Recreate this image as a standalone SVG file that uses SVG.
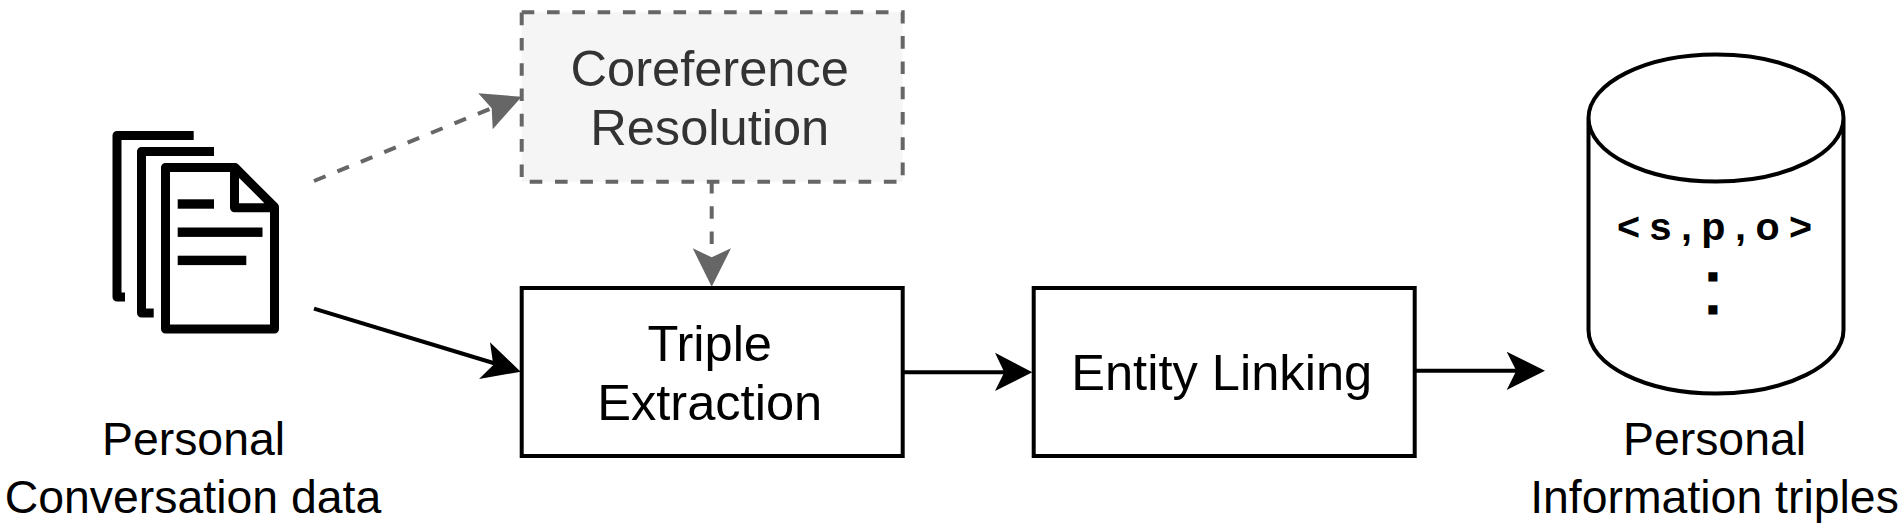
<svg xmlns="http://www.w3.org/2000/svg" width="1902" height="524" viewBox="0 0 1902 524">
<style>
text{font-family:"Liberation Sans",Arial,sans-serif;font-size:50.6px;text-anchor:middle;fill:#000}
.lbl{font-size:46.4px}
.box{fill:#fff;stroke:#000;stroke-width:4}
.doc{fill:none;stroke:#000;stroke-width:9;stroke-linejoin:round}
.bar{fill:#000}
.sol{stroke:#000;stroke-width:4;fill:none}
.dash{stroke:#666;stroke-width:4;fill:none;stroke-dasharray:12.5 12.8}
.hs{fill:#000}.hd{fill:#666}
.g{fill:#333}
.b{font-weight:bold}
.dot{font-size:30px;font-weight:bold;stroke:#000;stroke-width:4.8px;stroke-linejoin:miter}
</style>
<rect width="1902" height="524" fill="#fff"/>
<g id="connectors">
<path class="dash" d="M314 181L492 108"/><path class="hd" d="M521.700 96.700L478.300 93.300L491.700 108.300L492.700 129.300Z"/>
<path class="dash" d="M711.700 181V257"/><path class="hd" d="M711.700 286.700L692.700 248.300L711.700 257.300L731 248.300Z"/>
<path class="sol" d="M314 308.700L495 363.500"/><path class="hs" d="M520.700 371.700L479 379L493.300 365L490 342.300Z"/>
<path class="sol" d="M903 372.300H1006"/><path class="hs" d="M1032.300 372.300L995 391L1004.300 372.300L995 352.700Z"/>
<path class="sol" d="M1414 370.700H1520"/><path class="hs" d="M1545 370.700L1506.700 390L1516.300 370.700L1506.700 351.700Z"/>
</g>
<g id="personal-data">
<path class="doc" d="M193.700 135.500H117V297H125"/>
<path class="doc" d="M214 151.500H141.500V313H153.700"/>
<path class="doc" d="M235 167.500H165.500V329H274.500V207ZM234.500 167.500V207.800H274.500"/>
<rect class="bar" x="177.700" y="199.300" width="36.300" height="9.400"/>
<rect class="bar" x="177.700" y="227.500" width="84.800" height="9.400"/>
<rect class="bar" x="177.700" y="255.700" width="68.600" height="9.400"/>
<text class="lbl" x="193.500" y="454.700">Personal</text>
<text class="lbl" x="193" y="512.500">Conversation data</text>
</g>
<g id="coreference">
<rect x="521.700" y="12.300" width="381" height="169.400" fill="#f5f5f5" stroke="#666" stroke-width="4" stroke-dasharray="12.600 12.700"/>
<text class="g" x="709.700" y="86">Coreference</text>
<text class="g" x="709.700" y="145">Resolution</text>
</g>
<g id="triple">
<rect class="box" x="521.700" y="288" width="381" height="168"/>
<text x="709.700" y="360.700">Triple</text>
<text x="709.700" y="420">Extraction</text>
</g>
<g id="entity">
<rect class="box" x="1033.700" y="288" width="381" height="168"/>
<text x="1221.700" y="390">Entity Linking</text>
</g>
<g id="database">
<path d="M1588.500 118C1588.500 83 1645.500 54.500 1716 54.500C1786.500 54.500 1843.500 83 1843.500 118V330C1843.500 365 1786.500 393.500 1716 393.500C1645.500 393.500 1588.500 365 1588.500 330ZM1588.500 118C1588.500 153 1645.500 181.500 1716 181.500C1786.500 181.500 1843.500 153 1843.500 118" fill="#fff" stroke="#000" stroke-width="4"/>
<text class="b" x="1714.500" y="240" style="font-size:39.500px;word-spacing:-1.500px">&lt; s , p , o &gt;</text>
<text class="dot" x="1713" y="279">.</text>
<text class="dot" x="1713" y="312.300">.</text>
<text class="lbl" x="1714.500" y="454.700">Personal</text>
<text class="lbl" x="1714.500" y="512.500">Information triples</text>
</g>
</svg>
